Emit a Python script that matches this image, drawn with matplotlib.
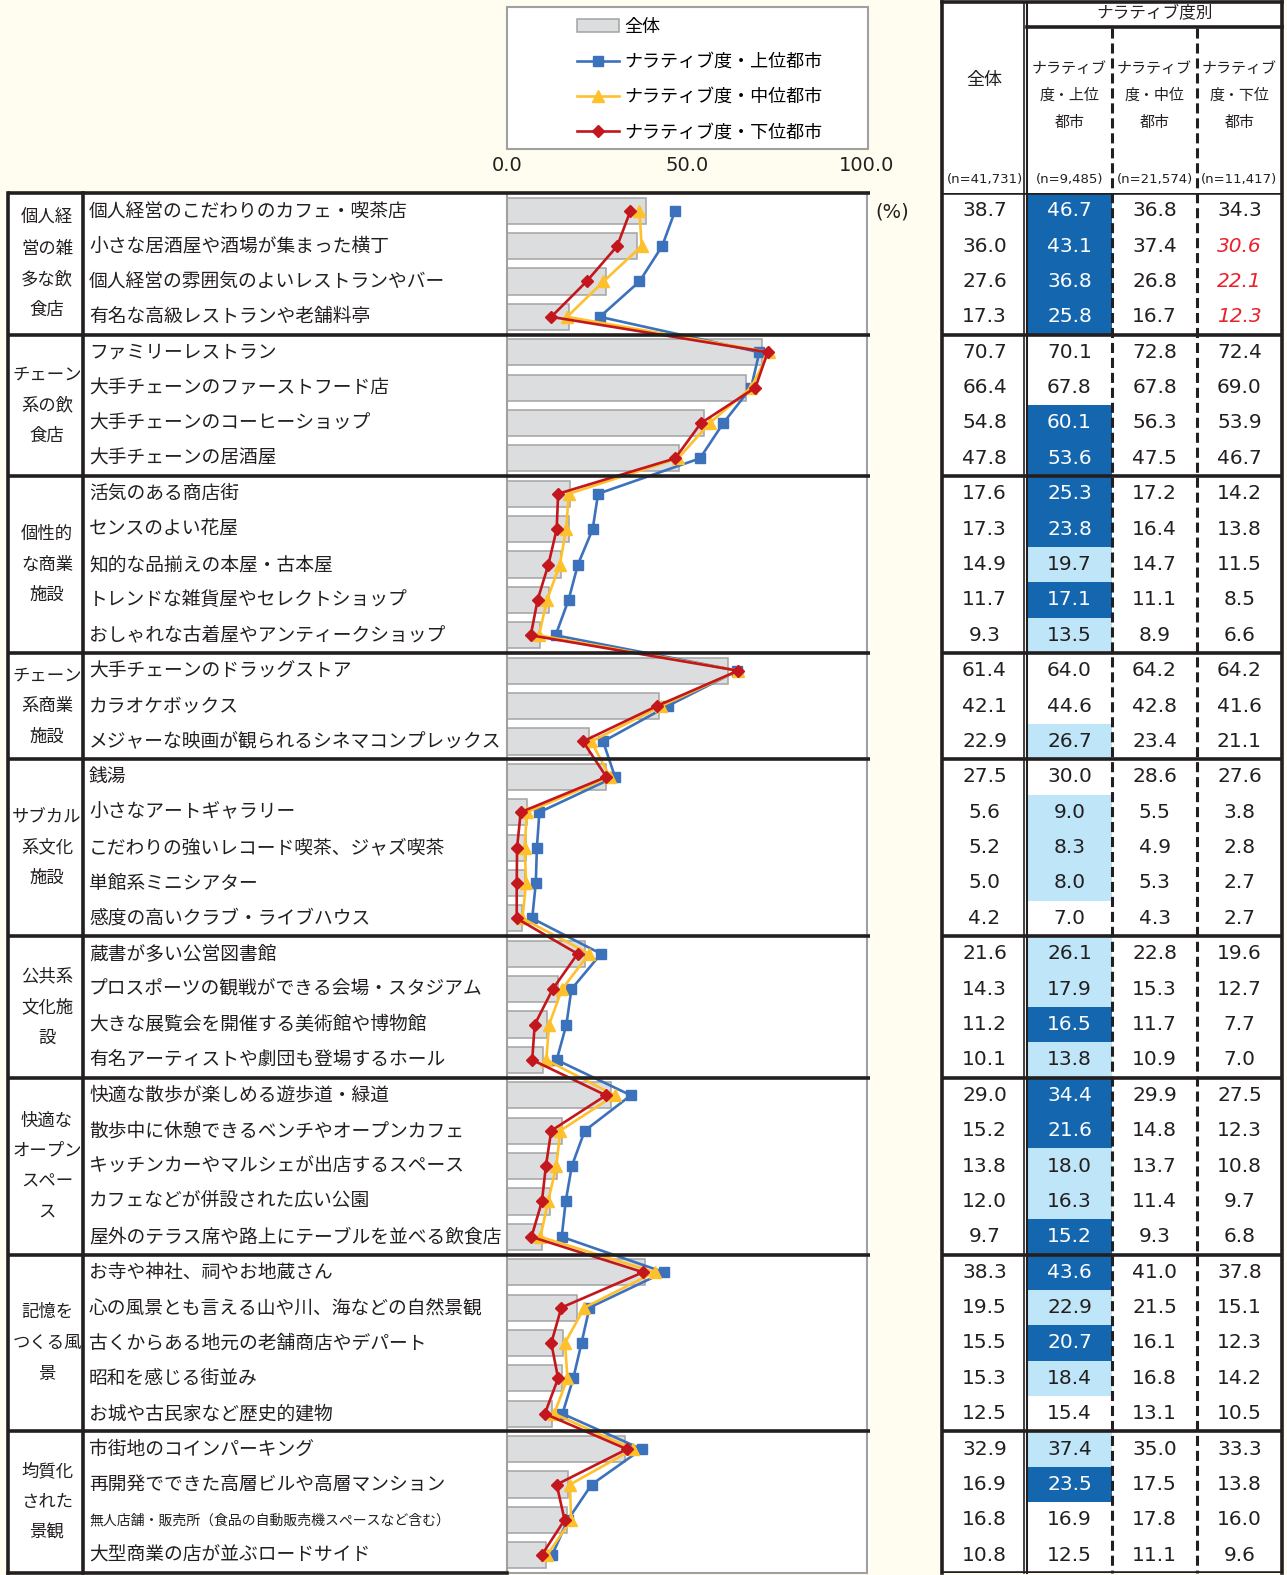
import matplotlib
matplotlib.use("Agg")
import matplotlib.pyplot as plt
import matplotlib.transforms as mtransforms
from matplotlib.patches import Patch, Rectangle
from matplotlib.lines import Line2D

plt.rcParams['font.family'] = ['Noto Sans CJK JP', 'DejaVu Sans']

# --- data -------------------------------------------------------------
groups = ["個人経\n営の雑\n多な飲\n食店", "チェーン\n系の飲\n食店", "個性的\nな商業\n施設",
          "チェーン\n系商業\n施設", "サブカル\n系文化\n施設", "公共系\n文化施\n設",
          "快適な\nオープン\nスペー\nス", "記憶を\nつくる風\n景", "均質化\nされた\n景観"]
group_sizes = [4, 4, 5, 3, 5, 4, 5, 5, 4]

items = [
    "個人経営のこだわりのカフェ・喫茶店",
    "小さな居酒屋や酒場が集まった横丁",
    "個人経営の雰囲気のよいレストランやバー",
    "有名な高級レストランや老舗料亭",
    "ファミリーレストラン",
    "大手チェーンのファーストフード店",
    "大手チェーンのコーヒーショップ",
    "大手チェーンの居酒屋",
    "活気のある商店街",
    "センスのよい花屋",
    "知的な品揃えの本屋・古本屋",
    "トレンドな雑貨屋やセレクトショップ",
    "おしゃれな古着屋やアンティークショップ",
    "大手チェーンのドラッグストア",
    "カラオケボックス",
    "メジャーな映画が観られるシネマコンプレックス",
    "銭湯",
    "小さなアートギャラリー",
    "こだわりの強いレコード喫茶、ジャズ喫茶",
    "単館系ミニシアター",
    "感度の高いクラブ・ライブハウス",
    "蔵書が多い公営図書館",
    "プロスポーツの観戦ができる会場・スタジアム",
    "大きな展覧会を開催する美術館や博物館",
    "有名アーティストや劇団も登場するホール",
    "快適な散歩が楽しめる遊歩道・緑道",
    "散歩中に休憩できるベンチやオープンカフェ",
    "キッチンカーやマルシェが出店するスペース",
    "カフェなどが併設された広い公園",
    "屋外のテラス席や路上にテーブルを並べる飲食店",
    "お寺や神社、祠やお地蔵さん",
    "心の風景とも言える山や川、海などの自然景観",
    "古くからある地元の老舗商店やデパート",
    "昭和を感じる街並み",
    "お城や古民家など歴史的建物",
    "市街地のコインパーキング",
    "再開発でできた高層ビルや高層マンション",
    "無人店舗・販売所（食品の自動販売機スペースなど含む）",
    "大型商業の店が並ぶロードサイド",
]

total = [38.7, 36.0, 27.6, 17.3, 70.7, 66.4, 54.8, 47.8, 17.6, 17.3, 14.9, 11.7, 9.3,
         61.4, 42.1, 22.9, 27.5, 5.6, 5.2, 5.0, 4.2, 21.6, 14.3, 11.2, 10.1, 29.0, 15.2,
         13.8, 12.0, 9.7, 38.3, 19.5, 15.5, 15.3, 12.5, 32.9, 16.9, 16.8, 10.8]
upper = [46.7, 43.1, 36.8, 25.8, 70.1, 67.8, 60.1, 53.6, 25.3, 23.8, 19.7, 17.1, 13.5,
         64.0, 44.6, 26.7, 30.0, 9.0, 8.3, 8.0, 7.0, 26.1, 17.9, 16.5, 13.8, 34.4, 21.6,
         18.0, 16.3, 15.2, 43.6, 22.9, 20.7, 18.4, 15.4, 37.4, 23.5, 16.9, 12.5]
middle = [36.8, 37.4, 26.8, 16.7, 72.8, 67.8, 56.3, 47.5, 17.2, 16.4, 14.7, 11.1, 8.9,
          64.2, 42.8, 23.4, 28.6, 5.5, 4.9, 5.3, 4.3, 22.8, 15.3, 11.7, 10.9, 29.9, 14.8,
          13.7, 11.4, 9.3, 41.0, 21.5, 16.1, 16.8, 13.1, 35.0, 17.5, 17.8, 11.1]
lower = [34.3, 30.6, 22.1, 12.3, 72.4, 69.0, 53.9, 46.7, 14.2, 13.8, 11.5, 8.5, 6.6,
         64.2, 41.6, 21.1, 27.6, 3.8, 2.8, 2.7, 2.7, 19.6, 12.7, 7.7, 7.0, 27.5, 12.3,
         10.8, 9.7, 6.8, 37.8, 15.1, 12.3, 14.2, 10.5, 33.3, 13.8, 16.0, 9.6]

# 2 = dark blue cell, 1 = light blue cell, 0 = none (上位 column)
upper_hl = [2, 2, 2, 2, 0, 0, 2, 2, 2, 2, 1, 2, 1, 0, 0, 1, 0, 1, 1, 1, 0,
            1, 1, 2, 1, 2, 2, 1, 1, 2, 2, 1, 2, 1, 0, 1, 2, 0, 0]
lower_red = [0, 1, 1, 1] + [0] * 35

col_heads = ["全体", "ナラティブ\n度・上位\n都市", "ナラティブ\n度・中位\n都市", "ナラティブ\n度・下位\n都市"]
n_labels = ["(n=41,731)", "(n=9,485)", "(n=21,574)", "(n=11,417)"]
legend_labels = ["全体", "ナラティブ度・上位都市", "ナラティブ度・中位都市", "ナラティブ度・下位都市"]

# --- styles -----------------------------------------------------------
cream = '#FFFDF0'
ink = '#231F20'
bar_face, bar_edge = '#DCDDDE', '#A3A3A3'
blue, yellow, red = '#3C71BC', '#FFC12B', '#C3161D'
dark_cell, light_cell = '#1467AF', '#BEE6F8'
red_txt = '#E8212B'

W, H = 1287, 1575
TOP, BOT = 193, 1573
fig = plt.figure(figsize=(W / 100, H / 100), dpi=100)
fig.patch.set_facecolor(cream)


def frame(x0, y0, x1, y1):
    return [x0 / W, 1 - y1 / H, (x1 - x0) / W, (y1 - y0) / H]


# background panels
bg = fig.add_axes([0, 0, 1, 1], zorder=0)
bg.set_xlim(0, W); bg.set_ylim(H, 0); bg.axis('off')
for x0, y0, x1, y1 in [(8, TOP, 870, BOT), (942, 2, 1282, BOT)]:
    bg.add_patch(Rectangle((x0, y0), x1 - x0, y1 - y0, facecolor='white', edgecolor='none'))
bg.add_patch(Rectangle((507, 7), 361, 142, facecolor='white', edgecolor='#A0A0A0', lw=1.5))

# chart
n = len(items)
ypos = [i + 0.5 for i in range(n)]
ax = fig.add_axes(frame(507, TOP, 867, BOT), zorder=2)
ax.set_facecolor('none')
ax.barh(ypos, total, height=0.74, color=bar_face, edgecolor=bar_edge, linewidth=1.1)
ax.plot(upper, ypos, color=blue, lw=1.9, marker='s', ms=7)
ax.plot(middle, ypos, color=yellow, lw=1.9, marker='^', ms=8)
ax.plot(lower, ypos, color=red, lw=1.9, marker='D', ms=6)
ax.set_xlim(0, 100)
ax.set_ylim(n, 0)
ax.xaxis.tick_top()
ax.set_xticks([0, 50, 100], ['0.0', '50.0', '100.0'], family='DejaVu Sans', fontsize=14, color=ink)
ax.tick_params(axis='x', length=0, pad=13)
ax.set_yticks([])
for s in ['left', 'right', 'bottom']:
    ax.spines[s].set_color('#A0A0A0')
    ax.spines[s].set_linewidth(1.5)
ax.spines['top'].set_visible(False)

# foreground: table lines and texts
fg = fig.add_axes([0, 0, 1, 1], zorder=3)
fg.set_xlim(0, W); fg.set_ylim(H, 0); fg.axis('off')
fg.patch.set_alpha(0)
rows = mtransforms.blended_transform_factory(fg.transData, ax.transData)

bounds = [0]
for g in group_sizes:
    bounds.append(bounds[-1] + g)

lw_b = 2.6
fg.plot([8, 8], [TOP, BOT], color=ink, lw=lw_b)
fg.plot([83, 83], [TOP, BOT], color=ink, lw=lw_b)
for b in bounds[:-1]:
    fg.plot([8, 870], [b, b], color=ink, lw=lw_b, transform=rows, solid_capstyle='butt')
fg.plot([8, 507], [n, n], color=ink, lw=lw_b, transform=rows)

for i, it in enumerate(items):
    fs = 10 if len(it) > 24 else 13.5
    fg.text(89, i + 0.5, it, transform=rows, va='center', ha='left', fontsize=fs, color=ink)

for g, lab in enumerate(groups):
    center = (bounds[g] + bounds[g + 1]) / 2
    lines = lab.split('\n')
    for k, ln in enumerate(lines):
        fg.text(47, center + (k - (len(lines) - 1) / 2) * 0.862, ln, transform=rows,
                ha='center', va='center', fontsize=12.5, color=ink)

fg.text(892, 212, "(%)", family='DejaVu Sans', fontsize=14, color=ink, ha='center', va='center')

# legend
handles = [Patch(facecolor=bar_face, edgecolor=bar_edge, lw=1.1),
           Line2D([], [], color=blue, lw=1.9, marker='s', ms=7),
           Line2D([], [], color=yellow, lw=1.9, marker='^', ms=8),
           Line2D([], [], color=red, lw=1.9, marker='D', ms=6)]
fg.legend(handles, legend_labels, loc='center', bbox_to_anchor=(700, 79.5),
          bbox_transform=fg.transData, frameon=False, fontsize=13,
          handlelength=2.3, handletextpad=0.3, labelspacing=0.95)

# right table
tab = fig.add_axes(frame(942, TOP, 1282, BOT), zorder=2)
tab.set_xlim(0, 4); tab.set_ylim(n, 0); tab.axis('off')
tab.patch.set_alpha(0)
for level, col in [(2, dark_cell), (1, light_cell)]:
    ys = [y for y, h in zip(ypos, upper_hl) if h == level]
    tab.barh(ys, 1, left=1, height=1, color=col, linewidth=0)

for c, vals in enumerate([total, upper, middle, lower]):
    for i, v in enumerate(vals):
        color = ink
        style = 'normal'
        if c == 1 and upper_hl[i] == 2:
            color = 'white'
        if c == 3 and lower_red[i]:
            color, style = red_txt, 'italic'
        tab.text(c + 0.5, ypos[i], f"{v:.1f}", ha='center', va='center', family='DejaVu Sans',
                 fontsize=14.5, color=color, style=style)

tab.hlines(bounds, 0, 4, color=ink, lw=lw_b)

# table frame and header
fg.plot([942, 942], [2, BOT], color=ink, lw=lw_b)
fg.plot([1282, 1282], [2, BOT], color=ink, lw=lw_b)
fg.plot([942, 1282], [2, 2], color=ink, lw=lw_b)
fg.plot([1023.5, 1023.5], [2, BOT], color=ink, lw=1.2)
fg.plot([1027, 1027], [2, BOT], color=ink, lw=1.5)
fg.plot([1027, 1282], [27, 27], color=ink, lw=lw_b)
for x in [1112, 1197]:
    fg.plot([x, x], [28, BOT], color=ink, lw=2.2, linestyle=(0, (3.3, 1.6)))

fg.text(1154.5, 14, "ナラティブ度別", ha='center', va='center', fontsize=12, color=ink)
fg.text(984.5, 80, col_heads[0], ha='center', va='center', fontsize=13, color=ink)
for c in range(1, 4):
    cx = 942 + 85 * c + 42.5
    for k, ln in enumerate(col_heads[c].split('\n')):
        fg.text(cx, 69 + 27 * k, ln, ha='center', va='center', fontsize=10.8, color=ink)
for c in range(4):
    cx = 942 + 85 * c + 42.5
    fg.text(cx, 180, n_labels[c], ha='center', va='center', family='DejaVu Sans',
            fontsize=9.5, color=ink)

fig.savefig('out.png', dpi=100, facecolor=fig.get_facecolor())
